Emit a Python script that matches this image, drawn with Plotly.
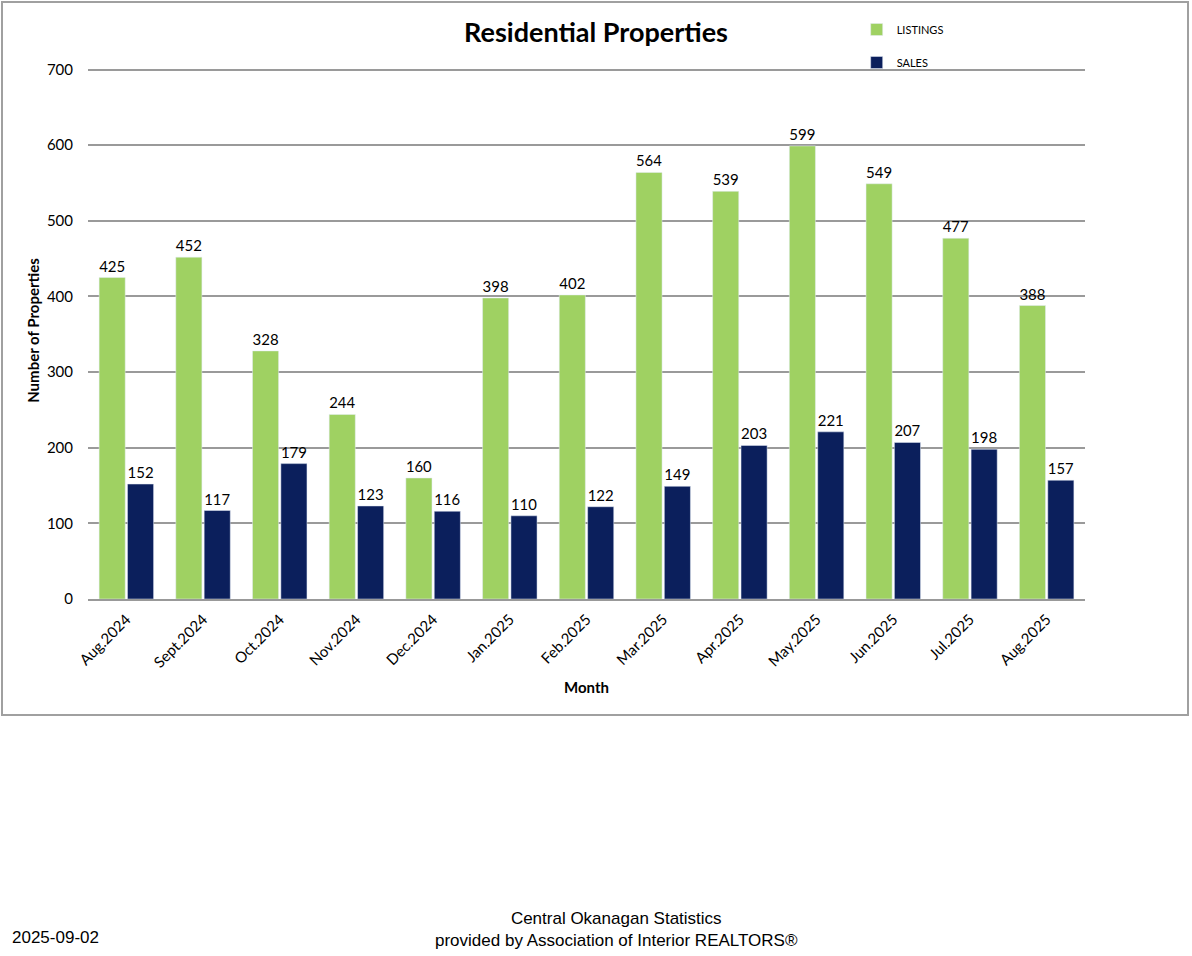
import plotly.graph_objects as go

months = ["Aug.2024", "Sept.2024", "Oct.2024", "Nov.2024", "Dec.2024", "Jan.2025", "Feb.2025",
          "Mar.2025", "Apr.2025", "May.2025", "Jun.2025", "Jul.2025", "Aug.2025"]
listings = [425, 452, 328, 244, 160, 398, 402, 564, 539, 599, 549, 477, 388]
sales = [152, 117, 179, 123, 116, 110, 122, 149, 203, 221, 207, 198, 157]

GREEN = "#9fd162"
NAVY = "#0b1f5c"
FONT = "Lato, 'Open Sans', sans-serif"

H = 537  # plot area height in px (0 at y=599)

fig = go.Figure()
fig.add_trace(go.Bar(x=months, y=listings, name="LISTINGS", marker_color=GREEN,
                     text=listings, textposition="outside", legendgroup="a",
                     textfont=dict(size=15, color="#000", family=FONT), cliponaxis=False))
fig.add_trace(go.Bar(x=months, y=sales, name="SALES", marker_color=NAVY,
                     text=sales, textposition="outside", legendgroup="b",
                     textfont=dict(size=15, color="#000", family=FONT), cliponaxis=False))

fig.update_layout(
    width=1192, height=956,
    margin=dict(l=88, r=107, t=62, b=357),
    paper_bgcolor="white", plot_bgcolor="white",
    barmode="group", bargap=0.26, bargroupgap=0.08,
    font=dict(family=FONT, color="#000"),
    title=dict(text="<b>Residential Properties</b>", x=0.5, xanchor="center",
               y=1 - 33 / 956, yanchor="middle", font=dict(size=27, family=FONT)),
    legend=dict(x=0.771, y=(599 - 15) / H, xanchor="left", yanchor="top", tracegroupgap=14,
                itemwidth=30,
                font=dict(size=11, family=FONT), bgcolor="rgba(0,0,0,0)"),
    showlegend=True,
    xaxis=dict(tickangle=-45, tickfont=dict(size=15), showline=True, linecolor="#999",
               linewidth=1.5, ticks="", ticklabelstandoff=4,
               title=dict(text="<b>Month</b>", font=dict(size=15), standoff=13)),
    yaxis=dict(range=[0, 710], tickvals=[0, 100, 200, 300, 400, 500, 600, 700],
               gridcolor="#9a9a9a", gridwidth=1.5, zeroline=False,
               tickfont=dict(size=15), ticks="", ticklabelstandoff=14,
               title=dict(text="<b>Number of Properties</b>", font=dict(size=15), standoff=3)),
)

fig.add_shape(type="rect", xref="paper", yref="paper",
              x0=-86 / 997, x1=1 + 103 / 997, y0=-(715 - 599) / H, y1=(599 - 2) / H,
              line=dict(color="#a0a0a0", width=2), layer="below")

fig.add_annotation(text="Central Okanagan Statistics<br>provided by Association of Interior REALTORS®",
                   xref="paper", yref="paper", x=(616 - 88) / 997, y=-(929 - 599) / H,
                   xanchor="center", yanchor="middle", showarrow=False,
                   font=dict(family="'Liberation Sans', Arial", size=17, color="#000"))
fig.add_annotation(text="2025-09-02", xref="paper", yref="paper", x=-78 / 997, y=-(938 - 599) / H,
                   xanchor="left", yanchor="middle", showarrow=False,
                   font=dict(family="'Liberation Sans', Arial", size=17, color="#000"))

fig.write_html("out.html")
